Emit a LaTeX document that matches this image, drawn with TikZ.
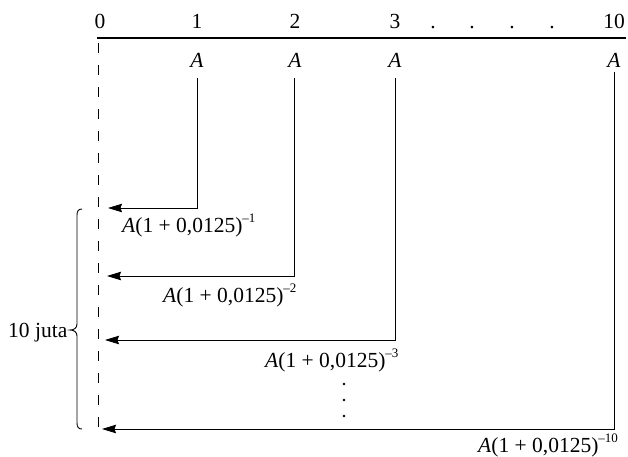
\documentclass[tikz,border=0pt]{standalone}
\usepackage{fontspec}
\setmainfont{Liberation Serif}
\usetikzlibrary{arrows.meta}
\newcommand{\pvlbl}[1]{\textit{A}(1 + 0,0125)\raisebox{10pt}{\fontsize{13}{13}\selectfont –#1}}
\begin{document}
\begin{tikzpicture}[x=1pt,y=-1pt,
  txt/.style={inner sep=0pt,font=\fontsize{21.5}{25}\selectfont},
  axisline/.style={line width=1.3pt},
  flowline/.style={line width=1pt,-{Stealth[length=14pt,width=8.5pt,inset=1.5pt]}},
  dashline/.style={line width=0.9pt,dash pattern=on 10pt off 12pt},
  bracestyle/.style={line width=0.9pt}]
\useasboundingbox (0,0) rectangle (628,456);
% period numbers
\node[txt,anchor=base] (t0) at (100,28) {0};
\node[txt,anchor=base] (t1) at (197,28) {1};
\node[txt,anchor=base] (t2) at (295,28) {2};
\node[txt,anchor=base] (t3) at (395,28) {3};
\node[txt,anchor=base] (d1) at (433,28) {.};
\node[txt,anchor=base] (d2) at (472,28) {.};
\node[txt,anchor=base] (d3) at (512,28) {.};
\node[txt,anchor=base] (d4) at (552,28) {.};
\node[txt,anchor=base] (t10) at (614,28) {10};
% time line
\coordinate (ls) at (97,38);
\coordinate (le) at (626,38);
\draw[axisline] (ls) -- (le);
% dashed line at 0
\coordinate (z0) at (98,43);
\coordinate (z1) at (98,434);
\draw[dashline] (z0) -- (z1);
% A labels
\node[txt,anchor=base] (a1) at (197,67) {\textit{A}};
\node[txt,anchor=base] (a2) at (295,67) {\textit{A}};
\node[txt,anchor=base] (a3) at (395,67) {\textit{A}};
\node[txt,anchor=base] (a10) at (614,67) {\textit{A}};
% connectors
\coordinate (s1) at (197,78);  \coordinate (c1) at (197,208);  \coordinate (e1) at (108,208);
\coordinate (s2) at (294,78);  \coordinate (c2) at (294,276);  \coordinate (e2) at (107,276);
\coordinate (s3) at (395,78);  \coordinate (c3) at (395,340);  \coordinate (e3) at (105,340);
\coordinate (s10) at (614,72); \coordinate (c10) at (614,429); \coordinate (e10) at (102,429);
\draw[flowline] (s1) -- (c1) -- (e1);
\draw[flowline] (s2) -- (c2) -- (e2);
\draw[flowline] (s3) -- (c3) -- (e3);
\draw[flowline] (s10) -- (c10) -- (e10);
% present value labels
\node[txt,anchor=base west] (p1) at (122,232) {\pvlbl{1}};
\node[txt,anchor=base west] (p2) at (163,302) {\pvlbl{2}};
\node[txt,anchor=base west] (p3) at (265,367) {\pvlbl{3}};
\node[txt,anchor=base west] (p10) at (478,452) {\pvlbl{10}};
% vertical dots
\fill (344,384) circle (1.4);
\fill (344,400) circle (1.4);
\fill (344,416) circle (1.4);
% brace
\draw[bracestyle] (82,209) .. controls (78.5,209) and (77,211) .. (77,215)
  -- (77,324) .. controls (77,328) and (74,330) .. (70,330)
  .. controls (74,330) and (77,332) .. (77,336)
  -- (77,423) .. controls (77,427) and (78.5,429) .. (82,429);
\node[txt,anchor=base west] (juta) at (8,337) {10 juta};
\end{tikzpicture}
\end{document}
